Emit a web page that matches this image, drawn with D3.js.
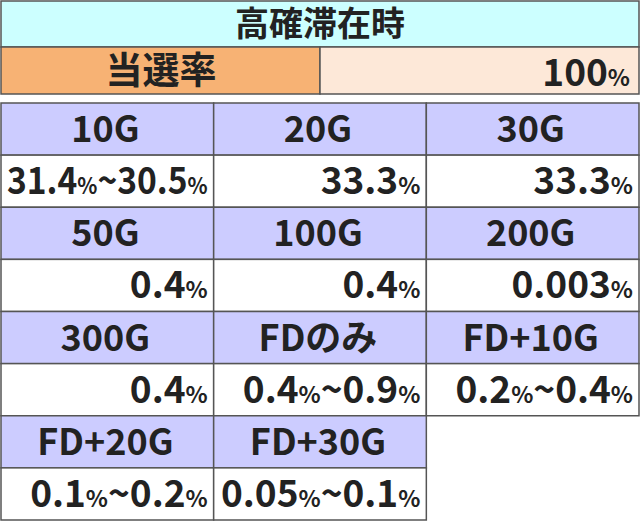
<!DOCTYPE html>
<html><head><meta charset="utf-8">
<script src="https://cdn.jsdelivr.net/npm/d3@7"></script>
<style>body{margin:0;background:#fff}svg{display:block}</style></head>
<body><script>
const title = "高確滞在時";
const rateLabel = "当選率";
const rateValue = ["100", "%"];
const categories = ["10G","20G","30G","50G","100G","200G","300G","FDのみ","FD+10G","FD+20G","FD+30G"];
const values = [
  [["31.4","%"],["~30.5","%"]], [["33.3","%"]], [["33.3","%"]],
  [["0.4","%"]], [["0.4","%"]], [["0.003","%"]],
  [["0.4","%"]], [["0.4","%"],["~0.9","%"]], [["0.2","%"],["~0.4","%"]],
  [["0.1","%"],["~0.2","%"]], [["0.05","%"],["~0.1","%"]]
];
const W=640,H=522, font="'Noto Sans CJK JP','Noto Sans',sans-serif", stroke="#555";
const svg=d3.select("body").append("svg").attr("width",W).attr("height",H);
const col=d3.scaleBand().domain([0,1,2]).range([1,639]);
const row=d3.scaleBand().domain(d3.range(8)).range([103,520]);
svg.append("rect").attr("x",1).attr("y",1).attr("width",638).attr("height",46).attr("fill","#ccffff").attr("stroke",stroke).attr("stroke-width",1.5);
svg.append("text").attr("x",320).attr("y",36).attr("text-anchor","middle").attr("font-family",font).attr("font-weight",700).attr("font-size",34).attr("fill","#222").text(title);
svg.append("rect").attr("x",1).attr("y",47).attr("width",319).attr("height",47).attr("fill","#f7b274").attr("stroke",stroke).attr("stroke-width",1.5);
svg.append("rect").attr("x",320).attr("y",47).attr("width",319).attr("height",47).attr("fill","#fde8d8").attr("stroke",stroke).attr("stroke-width",1.5);
svg.append("text").attr("x",161).attr("y",84).attr("text-anchor","middle").attr("font-family",font).attr("font-weight",700).attr("font-size",37).attr("fill","#222").text(rateLabel);
function valText(g,x,y,parts,maxW){
  const t=g.append("text").attr("x",x).attr("y",y).attr("text-anchor","end").attr("font-family",font).attr("font-weight",700).attr("fill","#222");
  parts.forEach(p=>{t.append("tspan").attr("font-size",37).text(p[0]);t.append("tspan").attr("font-size",23).text(p[1]);});
  if(maxW){const w=t.node().getComputedTextLength(); if(w>maxW) t.attr("textLength",maxW).attr("lengthAdjust","spacingAndGlyphs");}
}
valText(svg,630,86,[rateValue]);
categories.forEach((c,i)=>{
  const ci=i%3, ri=Math.floor(i/3)*2, x=col(ci), w=col.bandwidth(), h=row.bandwidth();
  svg.append("rect").attr("x",x).attr("y",row(ri)).attr("width",w).attr("height",h).attr("fill","#ccccff").attr("stroke",stroke).attr("stroke-width",1.5);
  svg.append("rect").attr("x",x).attr("y",row(ri+1)).attr("width",w).attr("height",h).attr("fill","#fff").attr("stroke",stroke).attr("stroke-width",1.5);
  svg.append("text").attr("x",x+w/2-2).attr("y",row(ri)+h/2+13).attr("text-anchor","middle").attr("font-family",font).attr("font-weight",700).attr("font-size",36).attr("fill","#222").text(c);
  valText(svg,x+w-6,row(ri+1)+h/2+13,values[i],w-12);
});
</script></body></html>
